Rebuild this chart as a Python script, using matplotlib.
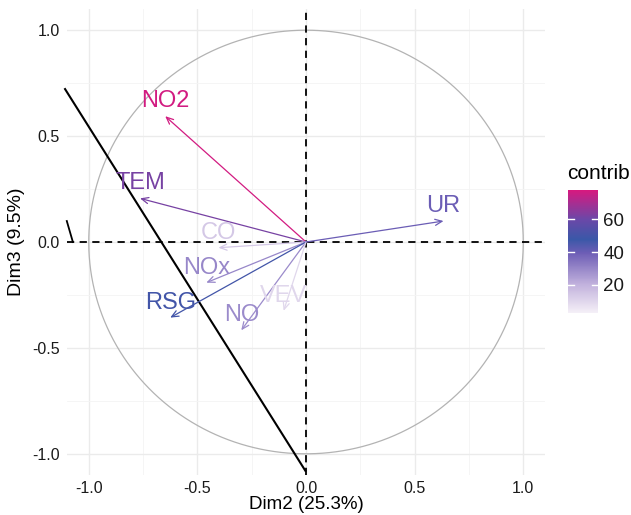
import numpy as np
import matplotlib
matplotlib.use("Agg")
import matplotlib.pyplot as plt
from matplotlib.colors import LinearSegmentedColormap, Normalize
from matplotlib.cm import ScalarMappable

plt.rcParams['font.family'] = ['Liberation Sans', 'DejaVu Sans']
plt.rcParams['axes.unicode_minus'] = False

# variable coordinates on Dim2 / Dim3 and their contributions
variables = ["NO2", "TEM", "CO", "NOx", "RSG", "NO", "VEV", "UR"]
dim2 = [-0.648, -0.764, -0.403, -0.459, -0.625, -0.298, -0.103, 0.633]
dim3 = [0.594, 0.206, -0.027, -0.192, -0.357, -0.417, -0.325, 0.099]
contrib = [77, 62, 14, 30, 50, 29, 10, 40]
contrib_range = [2.7, 78]

# hand-drawn black lines on top of the plot
line_x = [-1.109, -0.003]
line_y = [0.722, -1.08]
stub_x = [-1.101, -1.073]
stub_y = [0.099, 0.0]

ticks = [-1.0, -0.5, 0.0, 0.5, 1.0]
minor = [-0.75, -0.25, 0.25, 0.75]

cmap = LinearSegmentedColormap.from_list("contrib", [
    (0.0, "#F5F0F7"), (0.23, "#C2B2DD"), (0.49, "#6D5DB5"),
    (0.6, "#3A58A8"), (0.76, "#6A48A8"), (1.0, "#D7197F")])
norm = Normalize(vmin=contrib_range[0], vmax=contrib_range[1])

fig = plt.figure(figsize=(6.31, 5.15), dpi=100)
ax = fig.add_axes([0.1062, 0.0777, 0.7575, 0.9048])
ax.set_xlim(-1.1, 1.1)
ax.set_ylim(-1.1, 1.1)

for s in ax.spines.values():
    s.set_visible(False)
ax.set_xticks(ticks)
ax.set_yticks(ticks)
ax.set_xticks(minor, minor=True)
ax.set_yticks(minor, minor=True)
ax.grid(True, which='major', color='#EBEBEB', lw=1.0)
ax.grid(True, which='minor', color='#F4F4F4', lw=0.6)
ax.set_axisbelow(True)
ax.tick_params(which='both', length=0, labelsize=11.5, labelcolor='#1A1A1A')
ax.tick_params(axis='x', pad=4)
ax.tick_params(axis='y', pad=5)

t = np.linspace(0, 2 * np.pi, 400)
ax.plot(np.cos(t), np.sin(t), color='#B3B3B3', lw=0.9)
ax.axhline(0, color='black', lw=1.3, ls=(0, (4, 3)))
ax.axvline(0, color='black', lw=1.3, ls=(0, (4, 3)))

for name, x, y, c in zip(variables, dim2, dim3, contrib):
    col = cmap(norm(c))
    ax.annotate("", xy=(x, y), xytext=(0, 0),
                arrowprops=dict(arrowstyle='->,head_length=0.5,head_width=0.22',
                                color=col, lw=0.9, shrinkA=0, shrinkB=0))
    ax.annotate(name, xy=(x, y), xytext=(0, 6.5), textcoords='offset points',
                ha='center', va='baseline', fontsize=17, color=col)

ax.plot(line_x, line_y, color='black', lw=1.5, clip_on=False)
ax.plot(stub_x, stub_y, color='black', lw=1.3, clip_on=False)

ax.set_xlabel("Dim2 (25.3%)", fontsize=13.5, labelpad=0)
ax.set_ylabel("Dim3 (9.5%)", fontsize=14, labelpad=5)

cax = fig.add_axes([0.900, 0.392, 0.0475, 0.239])
sm = ScalarMappable(norm=norm, cmap=cmap)
cb = fig.colorbar(sm, cax=cax, ticks=[20, 40, 60])
cb.outline.set_visible(False)
cax.tick_params(length=0, labelsize=13.5, pad=4, labelcolor='#1A1A1A')
for v in [20, 40, 60]:
    cax.plot([0, 0.2], [v, v], color='white', lw=1, transform=cax.get_yaxis_transform())
    cax.plot([0.8, 1.0], [v, v], color='white', lw=1, transform=cax.get_yaxis_transform())
fig.text(0.898, 0.645, "contrib", fontsize=15, ha='left', va='bottom')

fig.savefig("out.png", dpi=100)
